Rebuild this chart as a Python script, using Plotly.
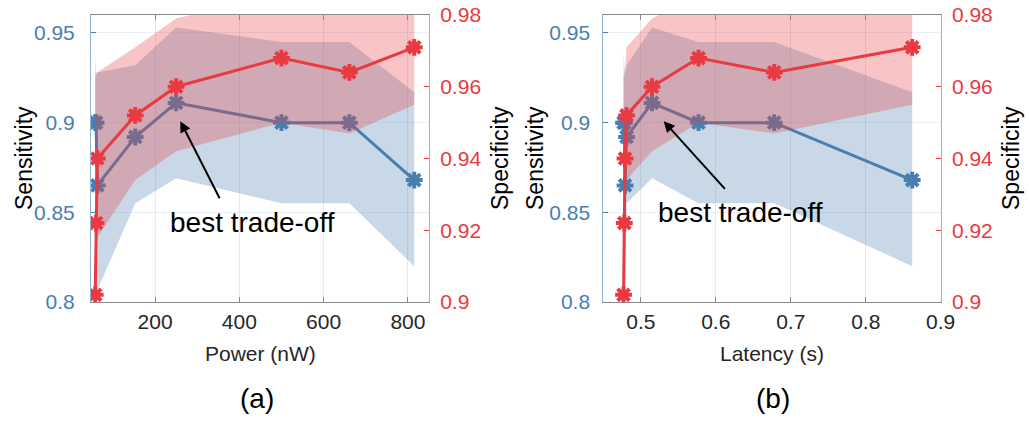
import plotly.graph_objects as go

# ---------------- data ----------------
power = [58, 60, 63, 153, 250, 500, 661, 815]            # nW
latency = [0.477, 0.478, 0.479, 0.481, 0.515, 0.577, 0.678, 0.862]  # s
sens = [0.900, 0.900, 0.865, 0.892, 0.911, 0.900, 0.900, 0.868]
spec = [0.902, 0.922, 0.940, 0.952, 0.960, 0.968, 0.964, 0.971]
sens_hi = [0.938, 0.928, 0.928, 0.932, 0.953, 0.945, 0.945, 0.917]
sens_lo = [0.805, 0.805, 0.806, 0.855, 0.869, 0.855, 0.855, 0.820]
spec_hi = [0.963, 0.963, 0.964, 0.971, 0.979, 0.986, 0.988, 0.990]
spec_lo = [0.917, 0.917, 0.918, 0.934, 0.942, 0.950, 0.947, 0.955]

power_ticks = [200, 400, 600, 800]
power_ticktext = ["200", "400", "600", "800"]
lat_ticks = [0.5, 0.6, 0.7, 0.8, 0.9]
lat_ticktext = ["0.5", "0.6", "0.7", "0.8", "0.9"]
sens_ticks = [0.8, 0.85, 0.9, 0.95]
sens_ticktext = ["0.8", "0.85", "0.9", "0.95"]
spec_ticks = [0.9, 0.92, 0.94, 0.96, 0.98]
spec_ticktext = ["0.9", "0.92", "0.94", "0.96", "0.98"]

BLUE = "#4a7eb1"
RED = "#e83a40"
BLUE_FILL = "rgba(74,126,177,0.30)"
RED_FILL = "rgba(232,58,64,0.30)"
FONT = "Liberation Sans, Arial, sans-serif"

W, H = 1029, 422
fig = go.Figure()


def add_panel(xs, xa, ya_l, ya_r):
    # sensitivity band + line (left axis)
    fig.add_trace(go.Scatter(
        x=list(xs) + list(xs)[::-1], y=sens_hi + sens_lo[::-1],
        fill="toself", fillcolor=BLUE_FILL, line=dict(width=0),
        mode="lines", hoverinfo="skip", showlegend=False,
        xaxis=xa, yaxis=ya_l))
    fig.add_trace(go.Scatter(
        x=xs, y=sens, mode="lines+markers",
        line=dict(color=BLUE, width=3),
        marker=dict(symbol="asterisk", size=14,
                    line=dict(color=BLUE, width=4)),
        showlegend=False, xaxis=xa, yaxis=ya_l))
    # specificity band + line (right axis)
    fig.add_trace(go.Scatter(
        x=list(xs) + list(xs)[::-1], y=spec_hi + spec_lo[::-1],
        fill="toself", fillcolor=RED_FILL, line=dict(width=0),
        mode="lines", hoverinfo="skip", showlegend=False,
        xaxis=xa, yaxis=ya_r))
    fig.add_trace(go.Scatter(
        x=xs, y=spec, mode="lines+markers",
        line=dict(color=RED, width=3),
        marker=dict(symbol="asterisk", size=14,
                    line=dict(color=RED, width=4)),
        showlegend=False, xaxis=xa, yaxis=ya_r))


add_panel(power, "x", "y", "y2")
add_panel(latency, "x2", "y3", "y4")

ydom = [1 - 302 / H, 1 - 15 / H]
xdom1 = [91 / W, 429 / W]
xdom2 = [603.3 / W, 940.7 / W]

xcommon = dict(showline=True, linecolor="#8a8a8a", linewidth=1, mirror="ticks",
               ticks="inside", ticklen=5, tickcolor="#8a8a8a",
               showgrid=True, gridcolor="rgba(38,38,38,0.10)", gridwidth=1,
               zeroline=False, tickfont=dict(family=FONT, size=21, color="#262626"),
               ticklabelstandoff=1, automargin=False)
yl_common = dict(showline=True, linecolor="rgba(74,126,177,0.6)", linewidth=1,
                 ticks="inside", ticklen=5, tickcolor=BLUE,
                 showgrid=True, gridcolor="rgba(74,126,177,0.12)",
                 zeroline=False, tickfont=dict(family=FONT, size=21, color=BLUE),
                 range=[0.8, 0.96], tickvals=sens_ticks, ticktext=sens_ticktext,
                 domain=ydom, automargin=False)
yr_common = dict(showline=True, linecolor="rgba(232,58,64,0.55)", linewidth=1,
                 ticks="inside", ticklen=5, tickcolor=RED, side="right",
                 showgrid=False, zeroline=False,
                 tickfont=dict(family=FONT, size=21, color=RED),
                 range=[0.9, 0.98], tickvals=spec_ticks, ticktext=spec_ticktext,
                 automargin=False)

fig.update_layout(
    width=W, height=H, margin=dict(l=0, r=0, t=0, b=0, autoexpand=False),
    paper_bgcolor="white", plot_bgcolor="white", showlegend=False,
    font=dict(family=FONT),
    xaxis=dict(domain=xdom1, range=[48, 850], tickvals=power_ticks,
               ticktext=power_ticktext, anchor="y", **xcommon),
    xaxis2=dict(domain=xdom2, range=[0.45, 0.9], tickvals=lat_ticks,
                ticktext=lat_ticktext, anchor="y3", **xcommon),
    yaxis=dict(anchor="x", ticklabelstandoff=11, **yl_common),
    yaxis2=dict(anchor="x", overlaying="y", ticklabelstandoff=6, **yr_common),
    yaxis3=dict(anchor="x2", ticklabelstandoff=8, **yl_common),
    yaxis4=dict(anchor="x2", overlaying="y3", ticklabelstandoff=6, **yr_common),
)


def ptext(xc, yc, txt, size, color="black", angle=0):
    return dict(x=xc / W, y=1 - yc / H, xref="paper", yref="paper",
                xanchor="center", yanchor="middle", text=txt, textangle=angle,
                showarrow=False, font=dict(family=FONT, size=size, color=color))


ann = []
# arrows + "best trade-off"
ann.append(dict(x=260, y=0.9008, ax=355, ay=0.857, xref="x", yref="y",
                axref="x", ayref="y", showarrow=True, arrowhead=2,
                arrowsize=1.1, arrowwidth=2, arrowcolor="black", text=""))
ann.append(dict(x=0.5306, y=0.9008, ax=0.614, ay=0.8622, xref="x2", yref="y3",
                axref="x2", ayref="y3", showarrow=True, arrowhead=2,
                arrowsize=1.1, arrowwidth=2, arrowcolor="black", text=""))
ann.append(ptext(252, 222, "best trade-off", 28))
ann.append(ptext(740, 212, "best trade-off", 28))
# axis titles
for xc, txt in [(24, "Sensitivity"), (500, "Specificity"),
                (535, "Sensitivity"), (1011, "Specificity")]:
    ann.append(ptext(xc, 158, txt, 23, angle=-90))
ann.append(ptext(260, 353, "Power (nW)", 21, "#262626"))
ann.append(ptext(772, 353, "Latency (s)", 21, "#262626"))
ann.append(ptext(257, 398, "(a)", 28))
ann.append(ptext(773, 398, "(b)", 28))
fig.update_layout(annotations=ann)

fig.write_html("out.html",
               config={"displayModeBar": False, "staticPlot": True},
               post_script="document.body.style.margin='0px';"
                           "document.body.style.overflow='hidden';")
